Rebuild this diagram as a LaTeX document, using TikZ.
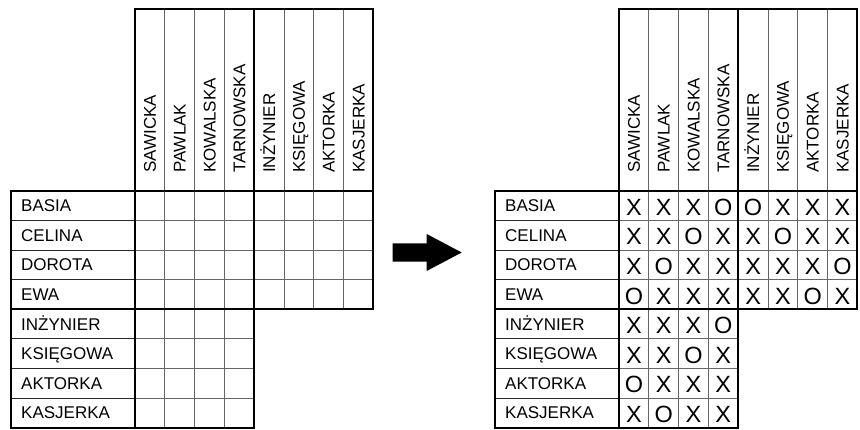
\documentclass[tikz,border=0pt]{standalone}
\usepackage{fontspec}
\setmainfont{Liberation Sans}
\usetikzlibrary{calc}

\newcommand\cellfont{\fontsize{17}{19}\selectfont}
\newcommand\markfont{\fontsize{23.5}{25}\selectfont}

\tikzset{
  gridline/.style={draw=black!60,line width=1pt},
  labelline/.style={draw=black!85,line width=1pt},
  frame/.style={draw=black,line width=2pt},
  rowlabel/.style={anchor=base west,inner sep=0pt,font=\cellfont},
  collabel/.style={anchor=base west,rotate=90,inner sep=0pt,font=\cellfont},
  markcell/.style={inner sep=0pt,font=\markfont}
}

\begin{document}
\begin{tikzpicture}[x=1pt,y=-1pt]
\useasboundingbox (0,0) rectangle (860,430);

\foreach \ox/\side in {0/L,484/R}{
  % thin lines
  \foreach \i in {1,2,3}
    \draw[gridline] ({\ox+135+29.8*\i},9) -- ({\ox+135+29.8*\i},427.8);
  \foreach \i in {5,6,7}
    \draw[gridline] ({\ox+135+29.8*\i},9) -- ({\ox+135+29.8*\i},309.4);
  \foreach \j in {1,2,3}
    \draw[gridline] ({\ox+135},{191+29.6*\j}) -- ({\ox+373.4},{191+29.6*\j});
  \foreach \j in {5,6,7}
    \draw[gridline] ({\ox+135},{191+29.6*\j}) -- ({\ox+254.2},{191+29.6*\j});
  \foreach \j in {1,2,3,5,6,7}
    \draw[labelline] ({\ox+11},{191+29.6*\j}) -- ({\ox+135},{191+29.6*\j});

  % thick frame
  \draw[frame] ({\ox+135},9) -- ({\ox+373.4},9) -- ({\ox+373.4},309.4) -- ({\ox+254.2},309.4)
    -- ({\ox+254.2},427.8) -- ({\ox+11},427.8) -- ({\ox+11},191) -- ({\ox+135},191) -- cycle;
  \draw[frame] ({\ox+135},191) -- ({\ox+373.4},191);
  \draw[frame] ({\ox+135},191) -- ({\ox+135},427.8);
  \draw[frame] ({\ox+254.2},9) -- ({\ox+254.2},309.4);
  \draw[frame] ({\ox+11},309.4) -- ({\ox+254.2},309.4);

  % labels
  \foreach \name [count=\r] in {BASIA,CELINA,DOROTA,EWA,INŻYNIER,KSIĘGOWA,AKTORKA,KASJERKA}
    \node[rowlabel] (\side row\r) at ({\ox+21},{191+29.6*(\r-0.5)+6}) {\name};
  \foreach \name [count=\c] in {SAWICKA,PAWLAK,KOWALSKA,TARNOWSKA,INŻYNIER,KSIĘGOWA,AKTORKA,KASJERKA}
    \node[collabel] (\side col\c) at ({\ox+135+29.8*(\c-0.5)+6},173) {\name};
}

% solution
\foreach \row [count=\r] in {{X,X,X,O,O,X,X,X},{X,X,O,X,X,O,X,X},{X,O,X,X,X,X,X,O},{O,X,X,X,X,X,O,X},
                            {X,X,X,O},{X,X,O,X},{O,X,X,X},{X,O,X,X}}
  \foreach \m [count=\c] in \row
    \node[markcell] (m\r\c) at ({484+135+29.8*(\c-0.5)},{191+29.6*(\r-0.5)+1.5}) {\m};

% arrow
\fill (392.7,243.3) -- (426.7,243.3) -- (426.7,234) -- (461.7,252.5)
  -- (426.7,271) -- (426.7,261.7) -- (392.7,261.7) -- cycle;

\end{tikzpicture}
\end{document}
